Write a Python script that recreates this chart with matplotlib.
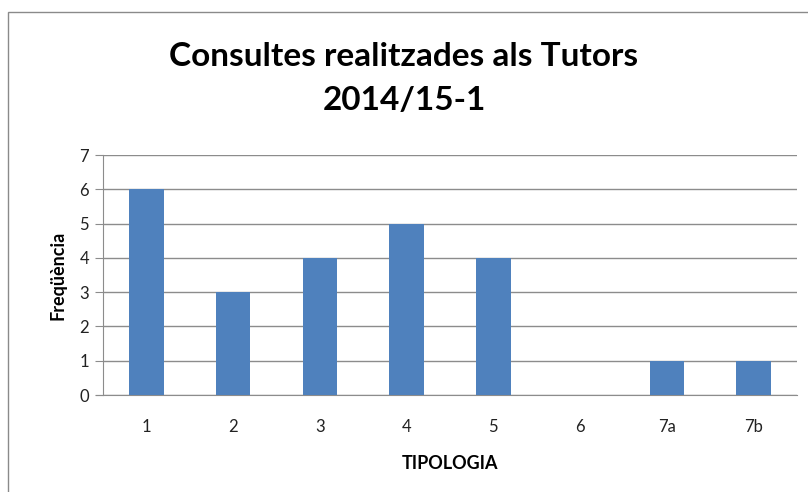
import matplotlib.pyplot as plt
from matplotlib.patches import Rectangle

# data
categories = ['1', '2', '3', '4', '5', '6', '7a', '7b']
counts = [6, 3, 4, 5, 4, 0, 1, 1]
y_ticks = [0, 1, 2, 3, 4, 5, 6, 7]

bar_color = '#4F81BD'
grid_color = '#8C8C8C'
font = 'Lato'

fig = plt.figure(figsize=(8.08, 4.92), dpi=100)

# chart frame (cut off on right and bottom in the original)
fig.patches.append(Rectangle((8 / 808, -0.05), 1.0, 1 - 12 / 492 + 0.05,
                             transform=fig.transFigure, fill=False,
                             edgecolor='#8A8A8A', linewidth=1.0))

ax = fig.add_axes([103 / 808, 1 - 395 / 492, 694 / 808, 240 / 492])

x = range(len(categories))
ax.bar(x, counts, width=0.4, color=bar_color, zorder=3)

ax.set_xlim(-0.5, len(categories) - 0.5)
ax.set_ylim(0, 7)
ax.set_yticks(y_ticks)
ax.set_xticks(list(x))
ax.set_xticklabels(categories)

ax.grid(axis='y', color=grid_color, linewidth=1.0, zorder=0)
for s in ['top', 'right']:
    ax.spines[s].set_visible(False)
ax.spines['left'].set_color(grid_color)
ax.spines['bottom'].set_color(grid_color)
ax.spines['bottom'].set_bounds(-0.58, len(categories) - 0.5)
ax.tick_params(axis='y', length=6, color=grid_color, labelsize=12, pad=4,
               labelcolor='#222222')
ax.tick_params(axis='x', length=0, labelsize=12, pad=17, labelcolor='#222222')
for lab in ax.get_xticklabels() + ax.get_yticklabels():
    lab.set_fontfamily(font)

ax.set_xlabel('TIPOLOGIA', fontsize=13, fontweight='bold', family=font,
              labelpad=15)
ax.set_ylabel('Freqüència', fontsize=13, fontweight='bold', family=font,
              labelpad=9)

fig.text(0.5, 1 - 66 / 492, 'Consultes realitzades als Tutors',
         ha='center', va='baseline', fontsize=24, fontweight='bold', family=font)
fig.text(0.5, 1 - 110 / 492, '2014/15-1',
         ha='center', va='baseline', fontsize=24, fontweight='bold', family=font)

fig.savefig('out.png', dpi=100, facecolor='white')
